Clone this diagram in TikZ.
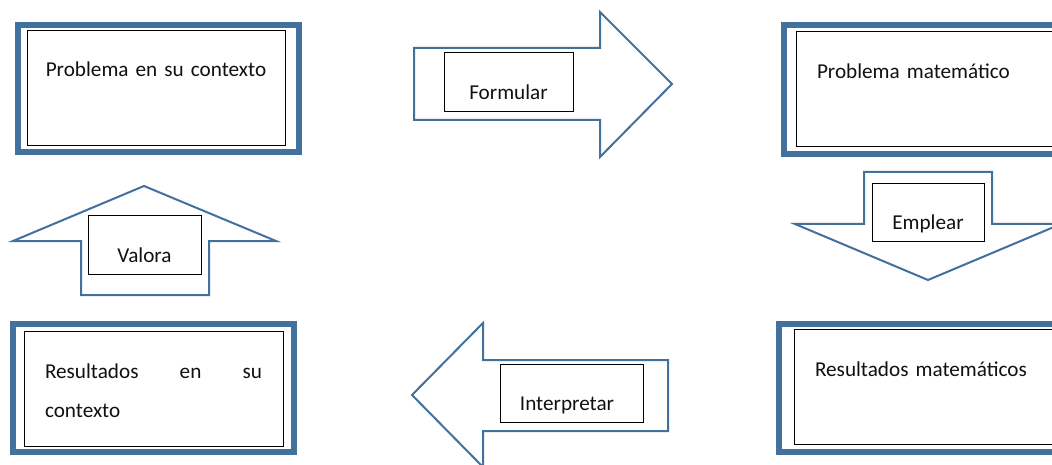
\documentclass[tikz,border=0pt]{standalone}
\usepackage{fontspec}
\setmainfont{Carlito}
\usepackage{tikz}
\usetikzlibrary{
  positioning,
  calc
}
\definecolor{mmFrame}{HTML}{41719C}
\definecolor{mmInk}{HTML}{111111}
\newcommand{\mmfont}{\fontsize{21.2}{25}\selectfont}
\newcommand{\mmwidefont}{\fontsize{21.2}{39}\selectfont}
\tikzset{
  outerframe/.style={draw=mmFrame, line width=6pt},
  stagebox/.style={
    draw=black, line width=0.9pt, fill=white, inner ysep=0pt,
    text height=47pt, text depth=68pt, font=\mmfont, text=mmInk
  },
  blockarrow/.style={draw=mmFrame, line width=2pt, fill=white},
  lblbox/.style={
    draw=black, line width=0.9pt, fill=white, inner xsep=0pt, inner ysep=0pt,
    text height=46.5pt, text depth=12pt, align=center, font=\mmfont, text=mmInk
  }
}
\begin{document}
\begin{tikzpicture}[x=1pt, y=-1pt]
  \useasboundingbox (0,0) rectangle (1052,465);
  \clip (0,0) rectangle (1052,465);
  \fill[white] (0,0) rectangle (1052,465);

  % marcos exteriores
  \draw[outerframe] (18,25) rectangle (299,152);
  \draw[outerframe] (784,25) rectangle (1065,154);
  \draw[outerframe] (13,324) rectangle (294,452);
  \draw[outerframe] (779,324) rectangle (1060,452);

  % etapas
  \node[stagebox, text width=238pt, inner xsep=10pt, align=center] (probctx) at (156,87.5)
    {Problema en su contexto};
  \node[stagebox, text width=218pt, inner xsep=21pt, align=left] (probmat) at (926,89)
    {Problema matemático};
  \node[stagebox, text width=217pt, inner xsep=21pt, align=left, font=\mmwidefont] (resctx) at (153.5,388.5)
    {\hbox to 217pt{Resultados\hfill en\hfill su}\\contexto};
  \node[stagebox, text width=220pt, inner xsep=21pt, align=left] (resmat) at (925,386.5)
    {Resultados matemáticos};

  % flechas de bloque
  \draw[blockarrow] (414,48) -- (600,48) -- (600,12) -- (672,84)
    -- (600,157) -- (600,120) -- (414,120) -- cycle;
  \draw[blockarrow] (864,172) -- (992,172) -- (992,224) -- (1061,224)
    -- (928,280) -- (795,224) -- (864,224) -- cycle;
  \draw[blockarrow] (668,360) -- (483,360) -- (483,323) -- (412,395)
    -- (483,467) -- (483,431) -- (668,431) -- cycle;
  \draw[blockarrow] (81,295) -- (81,241) -- (13,241) -- (144,186)
    -- (276,241) -- (209,241) -- (209,295) -- cycle;

  % rotulos
  \node[lblbox, text width=129pt] (formular) at (508.5,82) {Formular};
  \node[lblbox, text width=112pt] (emplear) at (928,212.5) {Emplear};
  \node[lblbox, text width=143pt] (interpretar) at (571.5,393.5) {Interpretar\hspace*{9pt}};
  \node[lblbox, text width=113pt] (valora) at (144.5,245) {Valora};
\end{tikzpicture}
\end{document}
